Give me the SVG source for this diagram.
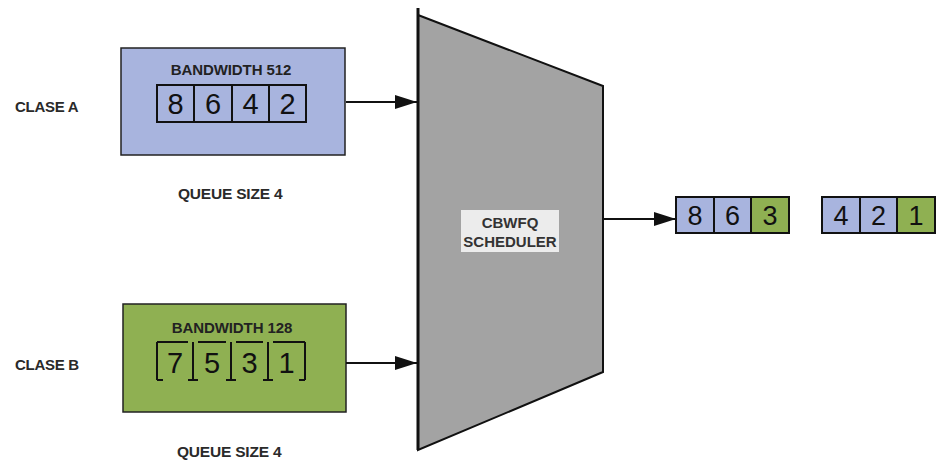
<svg xmlns="http://www.w3.org/2000/svg" width="938" height="462" viewBox="0 0 938 462">
<defs>
<style>
.lbl{font-family:"Liberation Sans",Arial,sans-serif;font-weight:bold;font-size:15px;fill:#2a2a2a;letter-spacing:-0.3px}
.q{font-size:15.5px;letter-spacing:-0.2px}
.bw{font-family:"Liberation Sans",Arial,sans-serif;font-weight:bold;font-size:15px;fill:#222;text-anchor:middle;letter-spacing:-0.1px}
.dg{font-family:"Liberation Sans",Arial,sans-serif;font-size:29px;fill:#111;text-anchor:middle}
.og{font-family:"Liberation Sans",Arial,sans-serif;font-size:27px;fill:#111;text-anchor:middle}
.sch{font-family:"Liberation Sans",Arial,sans-serif;font-weight:bold;font-size:15px;fill:#333;text-anchor:middle}
.blue{fill:#a8b4de}
.green{fill:#8fb052}
.cell{stroke:#111;stroke-width:2}
.conn{stroke:#111;stroke-width:2;fill:none}
</style>
<marker id="ahL" markerWidth="22" markerHeight="14" refX="22" refY="7" orient="auto" markerUnits="userSpaceOnUse">
<path d="M0,0 L22,7 L0,14 z" fill="#111"/>
</marker>
</defs>
<rect width="938" height="462" fill="#fff"/>

<g id="labels">
<text class="lbl" x="15" y="112">CLASE A</text>
<text class="lbl q" x="178" y="199">QUEUE SIZE 4</text>
<text class="lbl" x="15" y="370">CLASE B</text>
<text class="lbl q" x="177" y="457">QUEUE SIZE 4</text>
</g>

<g id="classA">
<rect x="121" y="48" width="224" height="107" class="blue" stroke="#222" stroke-width="1.5"/>
<text class="bw" x="231" y="75">BANDWIDTH 512</text>
<rect x="157" y="85" width="37" height="37" class="blue cell"/>
<rect x="194" y="85" width="38" height="37" class="blue cell"/>
<rect x="232" y="85" width="37" height="37" class="blue cell"/>
<rect x="269" y="85" width="37" height="37" class="blue cell"/>
<text class="dg" x="175.5" y="114">8</text>
<text class="dg" x="213" y="114">6</text>
<text class="dg" x="250.5" y="114">4</text>
<text class="dg" x="287.5" y="114">2</text>
</g>

<g id="classB">
<rect x="123" y="304" width="223" height="108" class="green" stroke="#222" stroke-width="1.5"/>
<text class="bw" x="232" y="333">BANDWIDTH 128</text>
<g stroke="#111" stroke-width="2" fill="none">
<path d="M157,342 V380 M193,342 V380 M231,342 V380 M268,342 V380 M305,342 V380"/>
<path d="M157,342 H188 M198,342 H226 M236,342 H263 M273,342 H305"/>
<path d="M157,380 H163 M188,380 H198 M226,380 H236 M263,380 H273 M299,380 H305"/>
</g>
<text class="dg" x="175" y="373">7</text>
<text class="dg" x="212" y="373">5</text>
<text class="dg" x="249.5" y="373">3</text>
<text class="dg" x="286.5" y="373">1</text>
</g>

<g id="scheduler">
<polygon points="418,15 603,86 603,372 418,450" fill="#a3a3a3" stroke="#111" stroke-width="2"/>
<line x1="418" y1="8" x2="418" y2="450" stroke="#111" stroke-width="3"/>
<rect x="461" y="210" width="98" height="42" fill="#ececec"/>
<text class="sch" x="510" y="228">CBWFQ</text>
<text class="sch" x="510" y="247">SCHEDULER</text>
</g>

<g id="connectors">
<line x1="346" y1="102" x2="417" y2="102" class="conn" marker-end="url(#ahL)"/>
<line x1="346" y1="363" x2="417" y2="363" class="conn" marker-end="url(#ahL)"/>
<line x1="604" y1="219" x2="676" y2="219" class="conn" marker-end="url(#ahL)"/>
</g>

<g id="output1">
<rect x="676" y="197" width="38" height="36" class="blue cell"/>
<rect x="714" y="197" width="37" height="36" class="blue cell"/>
<rect x="751" y="197" width="38" height="36" class="green cell"/>
<text class="og" x="695" y="225">8</text>
<text class="og" x="732.5" y="225">6</text>
<text class="og" x="770" y="225">3</text>
</g>

<g id="output2">
<rect x="822" y="197" width="38" height="36" class="blue cell"/>
<rect x="860" y="197" width="37" height="36" class="blue cell"/>
<rect x="897" y="197" width="38" height="36" class="green cell"/>
<text class="og" x="841" y="225">4</text>
<text class="og" x="878.5" y="225">2</text>
<text class="og" x="916" y="225">1</text>
</g>
</svg>
